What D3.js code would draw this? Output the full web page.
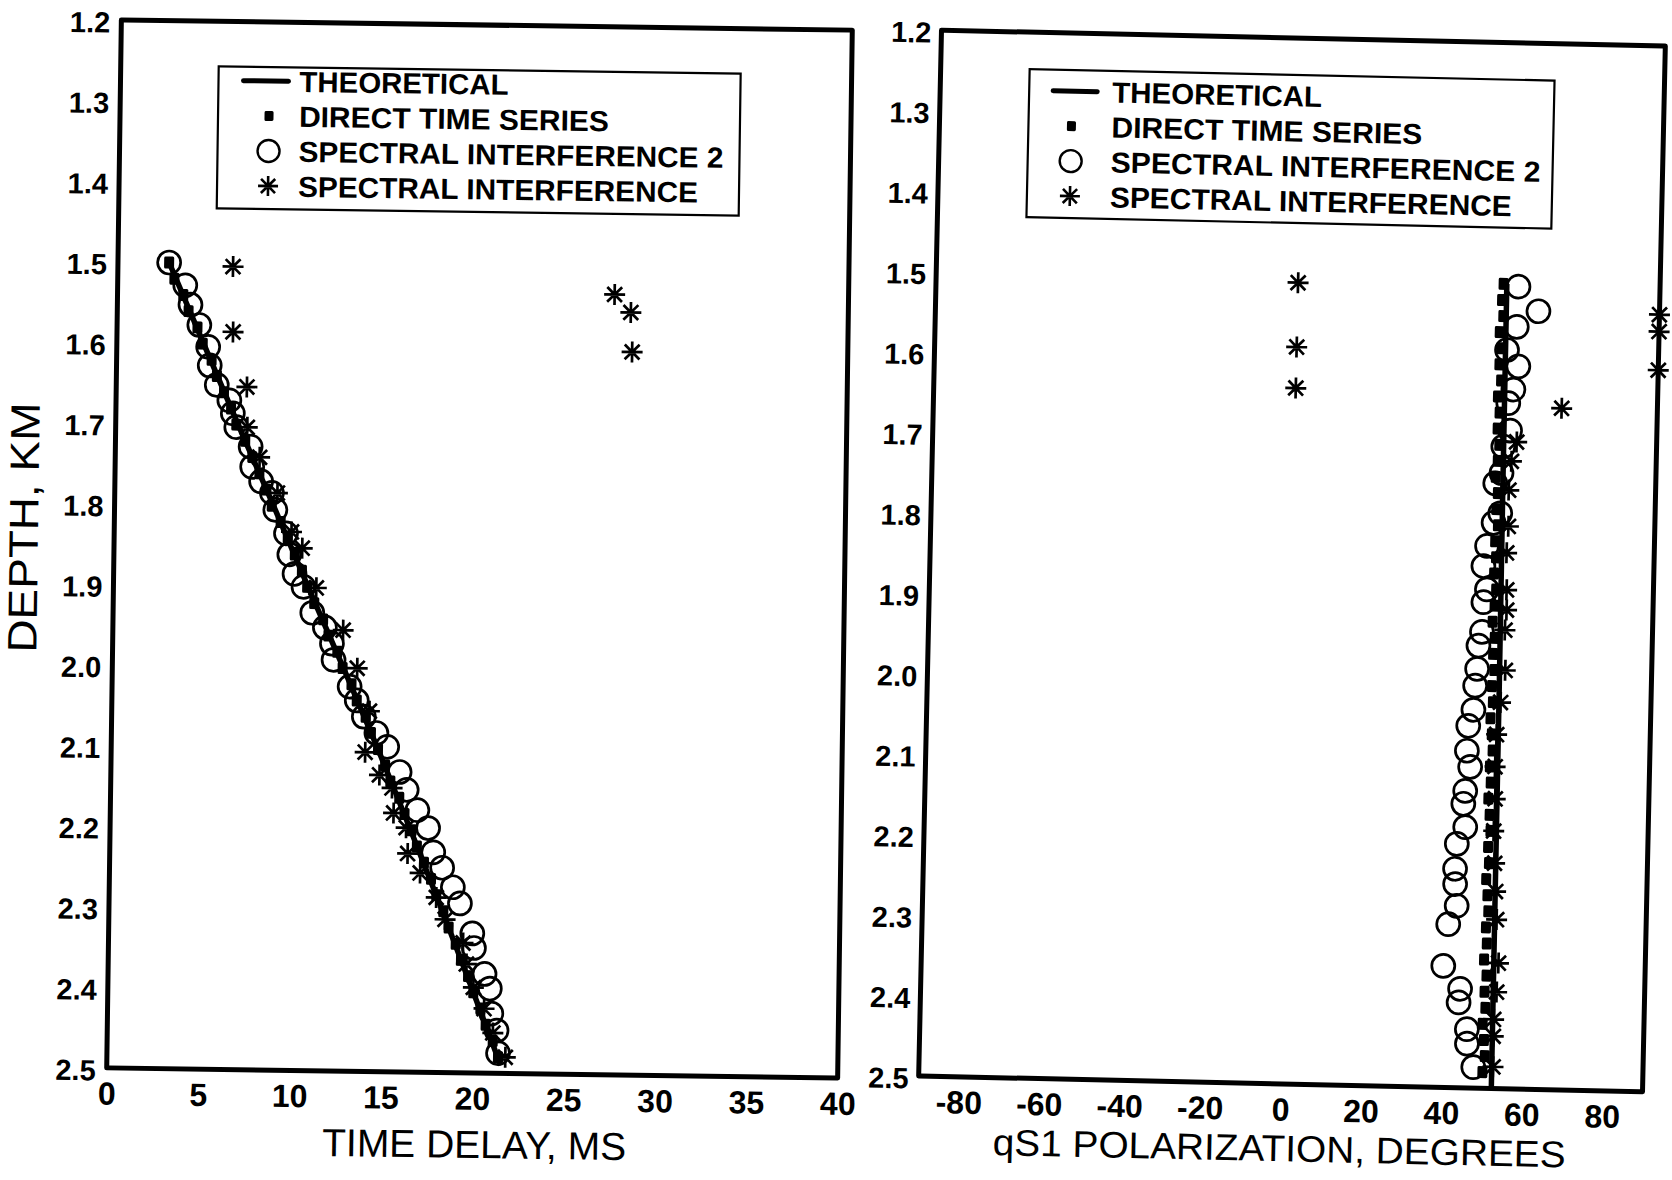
<!DOCTYPE html>
<html>
<head>
<meta charset="utf-8">
<script src="https://cdn.jsdelivr.net/npm/d3@7"></script>
<style>
  body { margin: 0; background: #fff; }
  svg { display: block; }
</style>
</head>
<body>
<svg id="chart" width="1672" height="1180"></svg>
<script>
// ---- Axis ticks and labels ----
const depthTicks = [1.2, 1.3, 1.4, 1.5, 1.6, 1.7, 1.8, 1.9, 2.0, 2.1, 2.2, 2.3, 2.4, 2.5];
const delayTicks = [0, 5, 10, 15, 20, 25, 30, 35, 40];
const polarTicks = [-80, -60, -40, -20, 0, 20, 40, 60, 80];
const legendLabels = ["THEORETICAL", "DIRECT TIME SERIES", "SPECTRAL INTERFERENCE 2", "SPECTRAL INTERFERENCE"];

// ---- Time delay (ms) versus depth (km): [depth, value] ----
const delayTheory = [[1.50, 2.8], [1.60, 4.75], [1.70, 6.7], [1.80, 8.7], [1.90, 10.65], [2.00, 12.65],
  [2.10, 14.6], [2.20, 16.45], [2.30, 18.25], [2.40, 20.0], [2.49, 21.55]];

const delayDirect = [[1.50, 2.8], [1.52, 3.1], [1.54, 3.6], [1.56, 3.9], [1.58, 4.4], [1.60, 4.7], [1.62, 5.2],
  [1.64, 5.5], [1.66, 5.9], [1.68, 6.3], [1.70, 6.6], [1.72, 7.1], [1.74, 7.5], [1.76, 7.9], [1.78, 8.3],
  [1.80, 8.6], [1.82, 9.1], [1.84, 9.5], [1.86, 9.9], [1.88, 10.3], [1.90, 10.6], [1.92, 11.0], [1.94, 11.5],
  [1.96, 11.8], [1.98, 12.3], [2.00, 12.6], [2.02, 13.1], [2.04, 13.4], [2.06, 13.9], [2.08, 14.2], [2.10, 14.6],
  [2.12, 15.0], [2.14, 15.3], [2.16, 15.8], [2.18, 16.1], [2.20, 16.5], [2.22, 16.8], [2.24, 17.2], [2.26, 17.6],
  [2.28, 17.9], [2.30, 18.3], [2.32, 18.6], [2.34, 19.0], [2.36, 19.3], [2.38, 19.7], [2.40, 20.0], [2.42, 20.4],
  [2.44, 20.7], [2.46, 21.1], [2.48, 21.4]];

const delaySpectral2 = [[1.500, 2.8], [1.528, 3.7], [1.552, 4.0], [1.577, 4.5], [1.604, 5.0], [1.627, 5.1],
  [1.651, 5.5], [1.670, 6.2], [1.686, 6.4], [1.703, 6.6], [1.727, 7.4], [1.752, 7.5], [1.770, 8.0], [1.784, 8.6],
  [1.805, 8.8], [1.834, 9.4], [1.860, 9.6], [1.884, 9.9], [1.900, 10.4], [1.932, 10.9], [1.950, 11.6],
  [1.970, 12.0], [1.990, 12.1], [2.023, 13.0], [2.040, 13.4], [2.060, 13.8], [2.080, 14.5], [2.097, 15.1],
  [2.128, 15.8], [2.150, 16.2], [2.175, 16.8], [2.197, 17.4], [2.227, 17.7], [2.246, 18.2], [2.270, 18.8],
  [2.290, 19.2], [2.327, 19.9], [2.345, 20.0], [2.377, 20.6], [2.395, 20.9], [2.426, 21.0], [2.447, 21.3],
  [2.475, 21.4]];

const delaySpectral = [[1.504, 6.3], [1.585, 6.35], [1.653, 7.15], [1.532, 27.2], [1.554, 28.1], [1.603, 28.2],
  [1.703, 7.2], [1.740, 7.9], [1.784, 8.9], [1.832, 9.7], [1.852, 10.3], [1.901, 11.1], [1.953, 12.6],
  [2.000, 13.4], [2.053, 14.1], [2.104, 13.9], [2.132, 14.7], [2.148, 15.4], [2.179, 15.5], [2.197, 16.2],
  [2.229, 16.3], [2.253, 17.0], [2.283, 17.9], [2.310, 18.4], [2.339, 19.4], [2.365, 19.6], [2.394, 20.0],
  [2.420, 20.6], [2.450, 21.1], [2.480, 21.8]];

// ---- qS1 polarization (degrees) versus depth (km): [depth, value] ----
const polarTheory = [[1.50, 51.9], [1.75, 52.0], [2.00, 52.2], [2.25, 52.3], [2.50, 52.4]];

const polarDirect = [[1.50, 51.1], [1.52, 50.8], [1.54, 51.2], [1.56, 50.4], [1.58, 50.9], [1.60, 50.5],
  [1.62, 51.0], [1.64, 50.3], [1.66, 50.8], [1.68, 50.4], [1.70, 50.9], [1.72, 50.6], [1.74, 50.2], [1.76, 50.8],
  [1.78, 50.5], [1.80, 51.0], [1.82, 50.4], [1.84, 50.7], [1.86, 50.3], [1.88, 50.9], [1.90, 50.6], [1.92, 50.2],
  [1.94, 50.8], [1.96, 50.5], [1.98, 50.9], [2.00, 50.4], [2.02, 50.7], [2.04, 50.2], [2.06, 50.6], [2.08, 50.9],
  [2.10, 50.3], [2.12, 50.6], [2.14, 50.1], [2.16, 50.5], [2.18, 50.8], [2.20, 50.3], [2.22, 50.6], [2.24, 50.0],
  [2.26, 50.4], [2.28, 50.7], [2.30, 50.2], [2.32, 50.5], [2.34, 49.9], [2.36, 50.6], [2.38, 50.2], [2.40, 50.5],
  [2.42, 49.9], [2.44, 50.3], [2.46, 50.6], [2.48, 50.1]];

const polarSpectral2 = [[1.503, 54.8], [1.533, 59.9], [1.553, 54.6], [1.582, 52.3], [1.602, 55.2],
  [1.631, 54.1], [1.648, 52.9], [1.682, 53.5], [1.702, 51.9], [1.735, 51.6], [1.748, 50.1], [1.785, 51.5],
  [1.797, 49.9], [1.826, 48.4], [1.851, 47.6], [1.880, 48.6], [1.896, 47.8], [1.933, 47.6], [1.950, 46.8],
  [1.979, 46.6], [2.000, 46.2], [2.030, 45.9], [2.050, 44.7], [2.081, 44.5], [2.101, 45.4], [2.131, 44.3],
  [2.147, 43.9], [2.176, 44.5], [2.197, 42.5], [2.228, 42.2], [2.247, 42.3], [2.274, 42.8], [2.297, 40.8],
  [2.349, 39.8], [2.377, 44.1], [2.394, 43.8], [2.427, 46.0], [2.445, 46.1], [2.474, 47.8]];

const polarSpectral = [[1.504, 0], [1.584, 0], [1.635, 0], [1.653, 66.2], [1.534, 90], [1.555, 90], [1.603, 90],
  [1.696, 55.2], [1.720, 54.0], [1.756, 53.5], [1.801, 53.6], [1.834, 53.3], [1.880, 53.5], [1.905, 53.6],
  [1.930, 53.3], [1.980, 53.6], [2.020, 52.6], [2.060, 51.8], [2.100, 51.6], [2.140, 51.8], [2.180, 51.6],
  [2.220, 52.0], [2.255, 52.4], [2.290, 52.8], [2.344, 53.5], [2.380, 53.2], [2.414, 52.6], [2.435, 52.6],
  [2.473, 52.7]];

// ---- Drawing ----
const svg = d3.select("#chart");
const INK = "#000";
const TICK_FONT = "'Liberation Sans', Arial, Helvetica, sans-serif";
const NARROW_FONT = "'Liberation Sans Narrow', 'Arial Narrow', 'Liberation Sans', Arial, sans-serif";

// eight-armed asterisk marker
function starPath(r) {
  const a = r * Math.SQRT1_2;
  return `M${-r},0H${r}M0,${-r}V${r}M${-a},${-a}L${a},${a}M${-a},${a}L${a},${-a}`;
}

function drawMarkers(g, x, y, lineData, squares, circles, stars) {
  g.append("path")
    .datum(lineData)
    .attr("fill", "none")
    .attr("stroke", INK)
    .attr("stroke-width", 5.5)
    .attr("stroke-linejoin", "round")
    .attr("d", d3.line().x(d => x(d[1])).y(d => y(d[0])));

  g.append("g").selectAll("circle").data(circles).join("circle")
    .attr("cx", d => x(d[1])).attr("cy", d => y(d[0])).attr("r", 11.5)
    .attr("fill", "none").attr("stroke", INK).attr("stroke-width", 2.7);

  g.append("g").selectAll("rect").data(squares).join("rect")
    .attr("x", d => x(d[1]) - 5).attr("y", d => y(d[0]) - 6)
    .attr("width", 10).attr("height", 12).attr("rx", 1.5)
    .attr("fill", INK);

  g.append("g").selectAll("path").data(stars).join("path")
    .attr("transform", d => `translate(${x(d[1])},${y(d[0])})`)
    .attr("d", starPath(10.5))
    .attr("fill", "none").attr("stroke", INK).attr("stroke-width", 2.7);
}

function drawLegend(g, L) {
  g.append("rect")
    .attr("x", L.x).attr("y", L.y).attr("width", L.w).attr("height", L.h)
    .attr("fill", "#fff").attr("stroke", INK).attr("stroke-width", 2.2);

  const rowY = i => L.y + L.row0 + i * L.rowStep;

  g.append("line")
    .attr("x1", L.x + L.line0).attr("x2", L.x + L.line1)
    .attr("y1", rowY(0)).attr("y2", rowY(0))
    .attr("stroke", INK).attr("stroke-width", 5).attr("stroke-linecap", "round");
  g.append("rect")
    .attr("x", L.x + L.sym - 4.5).attr("y", rowY(1) - 5)
    .attr("width", 9).attr("height", 10).attr("rx", 1.5).attr("fill", INK);
  g.append("circle")
    .attr("cx", L.x + L.sym).attr("cy", rowY(2)).attr("r", 11)
    .attr("fill", "none").attr("stroke", INK).attr("stroke-width", 2.4);
  g.append("path")
    .attr("transform", `translate(${L.x + L.sym},${rowY(3)})`)
    .attr("d", starPath(10))
    .attr("fill", "none").attr("stroke", INK).attr("stroke-width", 2.6);

  g.append("g").selectAll("text").data(legendLabels).join("text")
    .attr("x", L.x + L.text)
    .attr("y", (d, i) => rowY(i))
    .attr("dy", "0.36em")
    .attr("font-family", NARROW_FONT)
    .attr("font-weight", "bold")
    .attr("font-size", 29)
    .attr("textLength", (d, i) => L.widths[i])
    .attr("lengthAdjust", "spacingAndGlyphs")
    .attr("fill", INK)
    .text(d => d);
}

function drawPanel(p) {
  const cx = p.left + p.width / 2, cy = p.top + p.height / 2;
  const g = svg.append("g").attr("transform", `rotate(${p.angle},${cx},${cy})`);

  const x = d3.scaleLinear().domain(p.xDomain).range([p.left, p.left + p.width]);
  const y = d3.scaleLinear().domain([1.2, 2.5]).range([p.top, p.top + p.height]);

  // depth axis labels
  const yAxis = g.append("g")
    .attr("transform", `translate(${p.left},0)`)
    .call(d3.axisLeft(y).tickValues(depthTicks).tickFormat(d3.format(".1f")).tickSize(0).tickPadding(p.yPad));
  yAxis.select(".domain").remove();
  yAxis.selectAll("text")
    .attr("font-family", TICK_FONT).attr("font-weight", "bold").attr("font-size", 29)
    .attr("fill", INK).attr("dy", "0.42em");

  // horizontal axis labels (plain hyphen for negatives)
  const xAxis = g.append("g")
    .attr("transform", `translate(0,${p.top + p.height})`)
    .call(d3.axisBottom(x).tickValues(p.xTicks).tickFormat(d => String(d)).tickSize(0).tickPadding(p.xPad));
  xAxis.select(".domain").remove();
  xAxis.selectAll("text")
    .attr("font-family", NARROW_FONT).attr("font-weight", "bold").attr("font-size", 32)
    .attr("fill", INK);

  // axis titles
  g.append("text")
    .attr("x", cx + p.xTitleShift).attr("y", p.top + p.height + p.xTitleGap)
    .attr("dy", "0.36em").attr("text-anchor", "middle")
    .attr("font-family", NARROW_FONT).attr("font-size", p.xTitleSize).attr("fill", INK)
    .attr("textLength", p.xTitleWidth).attr("lengthAdjust", "spacingAndGlyphs")
    .text(p.xTitle);

  if (p.yTitle) {
    g.append("text")
      .attr("transform", `translate(${p.left - 91},${p.yTitleY}) rotate(-90)`)
      .attr("dy", "0.36em").attr("text-anchor", "middle")
      .attr("font-family", NARROW_FONT).attr("font-size", 41).attr("fill", INK)
      .attr("textLength", 250).attr("lengthAdjust", "spacingAndGlyphs")
      .text(p.yTitle);
  }

  drawMarkers(g, x, y, p.theory, p.direct, p.spectral2, p.spectral);

  // plot frame
  g.append("rect")
    .attr("x", p.left).attr("y", p.top).attr("width", p.width).attr("height", p.height)
    .attr("fill", "none").attr("stroke", INK).attr("stroke-width", 5).attr("stroke-linejoin", "round");

  drawLegend(g, p.legend);
}

drawPanel({
  left: 114, top: 25, width: 731, height: 1048, angle: 0.8,
  xDomain: [0, 40], xTicks: delayTicks, yPad: 11, xPad: 14,
  xTitle: "TIME DELAY, MS", xTitleWidth: 304, xTitleShift: 3, xTitleGap: 71, xTitleSize: 39,
  yTitle: "DEPTH, KM", yTitleY: 534,
  theory: delayTheory, direct: delayDirect, spectral2: delaySpectral2, spectral: delaySpectral,
  legend: { x: 212, y: 70, w: 522, h: 142, row0: 14, rowStep: 35, line0: 25, line1: 70, sym: 51, text: 81,
            widths: [209, 310, 425, 400] }
});

drawPanel({
  left: 930, top: 38, width: 724, height: 1046, angle: 1.25,
  xDomain: [-90, 90], xTicks: polarTicks, yPad: 10, xPad: 14,
  xTitle: "qS1 POLARIZATION, DEGREES", xTitleWidth: 573, xTitleShift: 0, xTitleGap: 64, xTitleSize: 37,
  yTitle: null,
  theory: polarTheory, direct: polarDirect, spectral2: polarSpectral2, spectral: polarSpectral,
  legend: { x: 1019, y: 75, w: 525, h: 148, row0: 21, rowStep: 35, line0: 24, line1: 68, sym: 43, text: 83,
            widths: [210, 311, 430, 402] }
});
</script>
</body>
</html>
